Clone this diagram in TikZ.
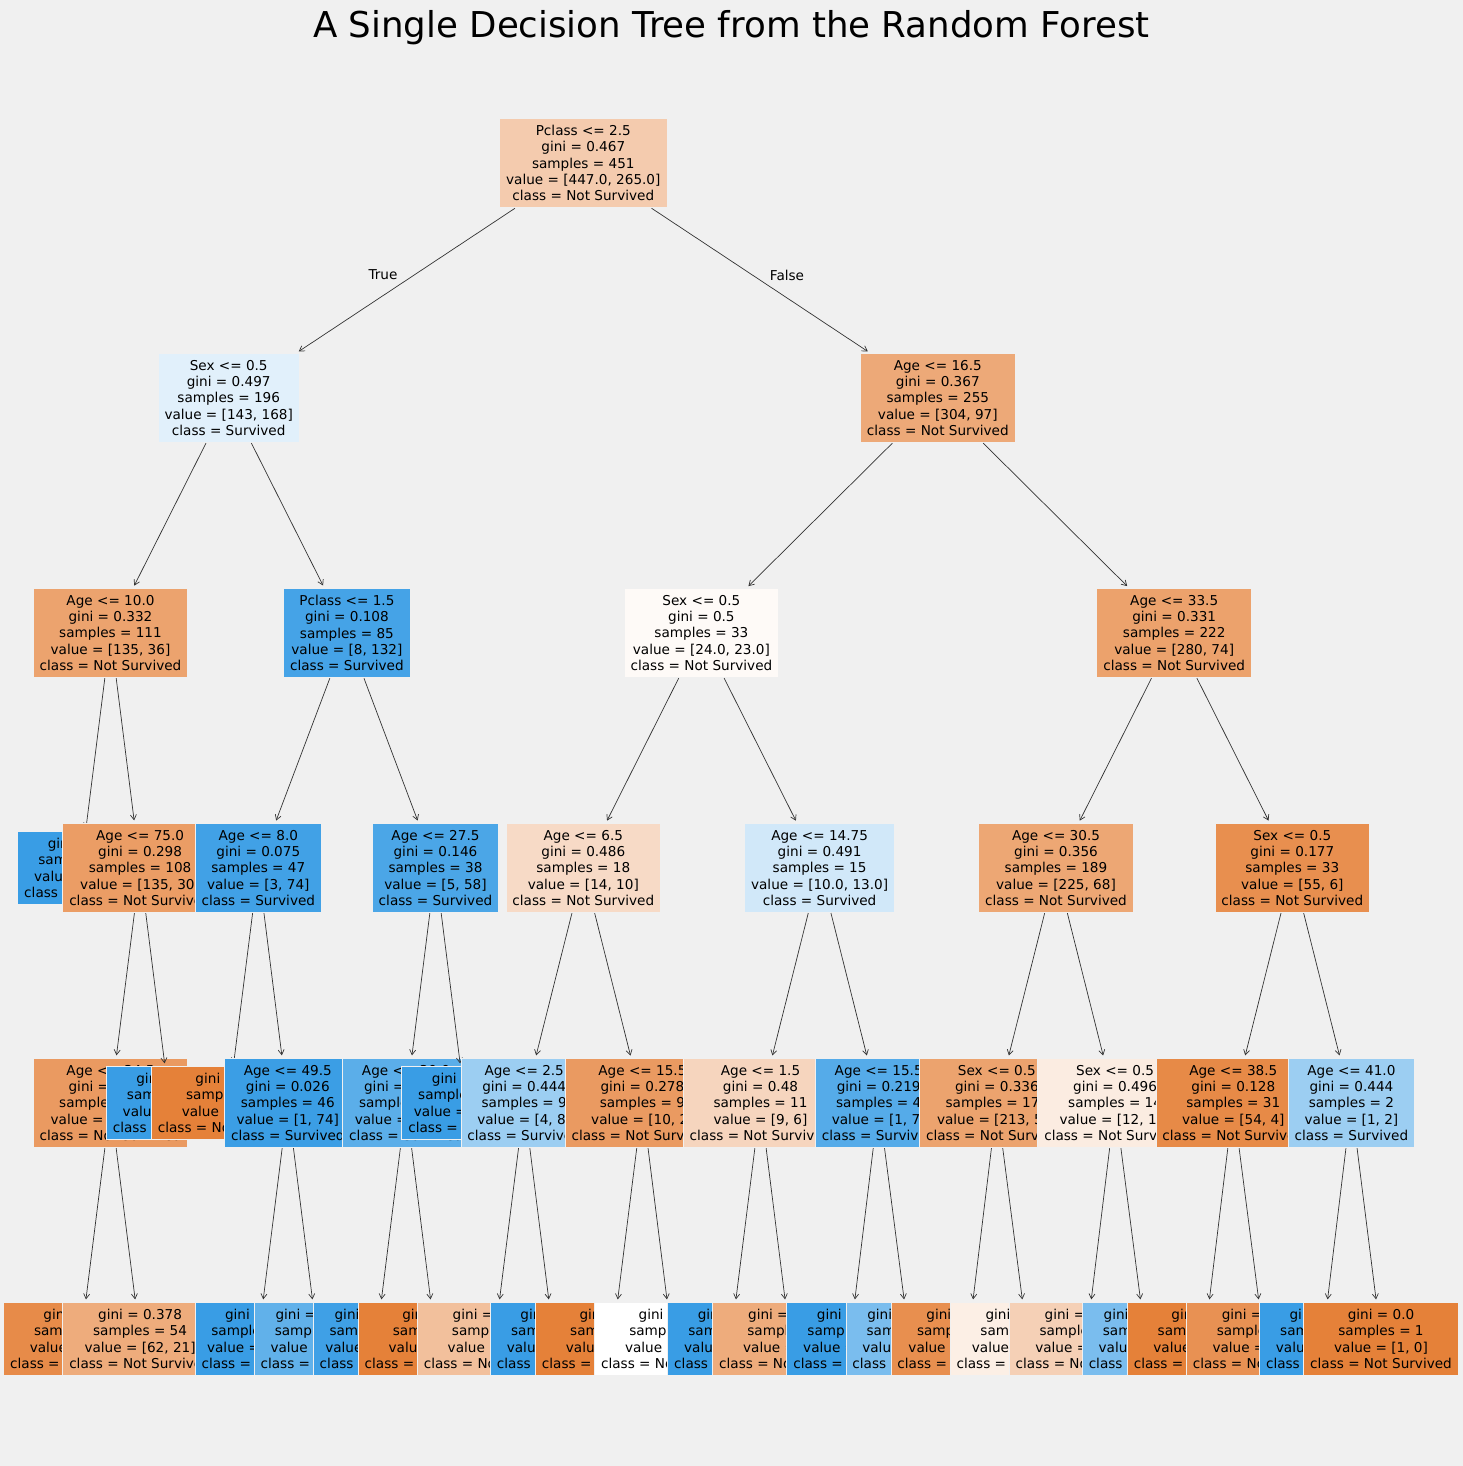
\documentclass[tikz,border=0pt]{standalone}
\usepackage{fontspec}
\setmainfont{DejaVu Sans}
\usetikzlibrary{arrows.meta}
\definecolor{bgc}{HTML}{F0F0F0}
\definecolor{nsC}{RGB}{229,129,57}
\definecolor{svC}{RGB}{57,157,229}
\begin{document}
\begin{tikzpicture}[x=1pt,y=-1pt,>={Straight Barb[length=5pt,width=6pt]},
  tbox/.style={draw=bgc,line width=0.8pt,align=center,inner xsep=6.5pt,inner ysep=7pt,
    font=\fontsize{13.6}{16.3}\selectfont},
  nsurv/.style={tbox,fill=nsC!#1},
  surv/.style={tbox,fill=svC!#1},
  edge/.style={->,draw=black!80,line width=0.7pt,shorten >=2.5pt}]
  \fill[bgc] (0,0) rectangle (1463,1466);
  \useasboundingbox (0,0) rectangle (1463,1466);
  \node[anchor=base] (title) at (731.5,38) {\fontsize{35.6}{40}\selectfont A Single Decision Tree from the Random Forest};
  % depth 0
  \node[nsurv=41] (root) at (583.3,163) {Pclass <= 2.5\\gini = 0.467\\samples = 451\\value = [447.0, 265.0]\\class = Not Survived};
  % left branch
  \node[surv=15] (a) at (228.7,398) {Sex <= 0.5\\gini = 0.497\\samples = 196\\value = [143, 168]\\class = Survived};
  \draw[edge] (root) -- (a);
  \node[nsurv=73] (al) at (110.5,633) {Age <= 10.0\\gini = 0.332\\samples = 111\\value = [135, 36]\\class = Not Survived};
  \draw[edge] (a) -- (al);
  \node[surv=100] (all) at (81,868) {gini = 0.0\\samples = 3\\value = [0, 6]\\class = Survived};
  \draw[edge] (al) -- (all);
  \node[nsurv=78] (alr) at (140.1,868) {Age <= 75.0\\gini = 0.298\\samples = 108\\value = [135, 30]\\class = Not Survived};
  \draw[edge] (al) -- (alr);
  \node[nsurv=80] (alrl) at (110.5,1103) {Age <= 34.5\\gini = 0.278\\samples = 106\\value = [135, 27]\\class = Not Survived};
  \draw[edge] (alr) -- (alrl);
  \node[nsurv=92] (alrll) at (81,1339) {gini = 0.14\\samples = 52\\value = [73, 6]\\class = Not Survived};
  \draw[edge] (alrl) -- (alrll);
  \node[nsurv=66] (alrlr) at (140.1,1339) {gini = 0.378\\samples = 54\\value = [62, 21]\\class = Not Survived};
  \draw[edge] (alrl) -- (alrlr);
  \node[surv=100] (alrr) at (169.6,1103) {gini = 0.0\\samples = 2\\value = [0, 3]\\class = Survived};
  \draw[edge] (alr) -- (alrr);
  \node[surv=94] (ar) at (346.9,633) {Pclass <= 1.5\\gini = 0.108\\samples = 85\\value = [8, 132]\\class = Survived};
  \draw[edge] (a) -- (ar);
  \node[surv=96] (arl) at (258.3,868) {Age <= 8.0\\gini = 0.075\\samples = 47\\value = [3, 74]\\class = Survived};
  \draw[edge] (ar) -- (arl);
  \node[nsurv=100] (arll) at (228.7,1103) {gini = 0.0\\samples = 1\\value = [2, 0]\\class = Not Survived};
  \draw[edge] (arl) -- (arll);
  \node[surv=99] (arlr) at (287.8,1103) {Age <= 49.5\\gini = 0.026\\samples = 46\\value = [1, 74]\\class = Survived};
  \draw[edge] (arl) -- (arlr);
  \node[surv=100] (arlrl) at (258.3,1339) {gini = 0.0\\samples = 42\\value = [0, 69]\\class = Survived};
  \draw[edge] (arlr) -- (arlrl);
  \node[surv=80] (arlrr) at (317.4,1339) {gini = 0.278\\samples = 4\\value = [1, 5]\\class = Survived};
  \draw[edge] (arlr) -- (arlrr);
  \node[surv=91] (arr) at (435.5,868) {Age <= 27.5\\gini = 0.146\\samples = 38\\value = [5, 58]\\class = Survived};
  \draw[edge] (ar) -- (arr);
  \node[surv=83] (arrl) at (406,1103) {Age <= 30.0\\gini = 0.251\\samples = 20\\value = [5, 29]\\class = Survived};
  \draw[edge] (arr) -- (arrl);
  \node[surv=97] (arrll) at (376.5,1339) {gini = 0.064\\samples = 18\\value = [1, 29]\\class = Survived};
  \draw[edge] (arrl) -- (arrll);
  \node[nsurv=100] (arrlr) at (435.5,1339) {gini = 0.0\\samples = 2\\value = [4, 0]\\class = Not Survived};
  \draw[edge] (arrl) -- (arrlr);
  \node[surv=100] (arrr) at (465.1,1103) {gini = 0.0\\samples = 18\\value = [0, 29]\\class = Survived};
  \draw[edge] (arr) -- (arrr);
  % right branch
  \node[nsurv=68] (b) at (937.8,398) {Age <= 16.5\\gini = 0.367\\samples = 255\\value = [304, 97]\\class = Not Survived};
  \draw[edge] (root) -- (b);
  \node[nsurv=4] (bl) at (701.4,633) {Sex <= 0.5\\gini = 0.5\\samples = 33\\value = [24.0, 23.0]\\class = Not Survived};
  \draw[edge] (b) -- (bl);
  \node[nsurv=29] (bll) at (583.3,868) {Age <= 6.5\\gini = 0.486\\samples = 18\\value = [14, 10]\\class = Not Survived};
  \draw[edge] (bl) -- (bll);
  \node[surv=50] (blll) at (524.2,1103) {Age <= 2.5\\gini = 0.444\\samples = 9\\value = [4, 8]\\class = Survived};
  \draw[edge] (bll) -- (blll);
  \node[nsurv=50] (bllll) at (494.6,1339) {gini = 0.444\\samples = 4\\value = [4, 2]\\class = Not Survived};
  \draw[edge] (blll) -- (bllll);
  \node[surv=100] (blllr) at (553.7,1339) {gini = 0.0\\samples = 5\\value = [0, 6]\\class = Survived};
  \draw[edge] (blll) -- (blllr);
  \node[nsurv=80] (bllr) at (642.4,1103) {Age <= 15.5\\gini = 0.278\\samples = 9\\value = [10, 2]\\class = Not Survived};
  \draw[edge] (bll) -- (bllr);
  \node[nsurv=100] (bllrl) at (612.8,1339) {gini = 0.0\\samples = 7\\value = [9, 0]\\class = Not Survived};
  \draw[edge] (bllr) -- (bllrl);
  \node[nsurv=0] (bllrr) at (671.9,1339) {gini = 0.5\\samples = 2\\value = [1, 1]\\class = Not Survived};
  \draw[edge] (bllr) -- (bllrr);
  \node[surv=23] (blr) at (819.6,868) {Age <= 14.75\\gini = 0.491\\samples = 15\\value = [10.0, 13.0]\\class = Survived};
  \draw[edge] (bl) -- (blr);
  \node[nsurv=33] (blrl) at (760.5,1103) {Age <= 1.5\\gini = 0.48\\samples = 11\\value = [9, 6]\\class = Not Survived};
  \draw[edge] (blr) -- (blrl);
  \node[surv=100] (blrll) at (731,1339) {gini = 0.0\\samples = 2\\value = [0, 3]\\class = Survived};
  \draw[edge] (blrl) -- (blrll);
  \node[nsurv=66] (blrlr) at (790,1339) {gini = 0.375\\samples = 9\\value = [9, 3]\\class = Not Survived};
  \draw[edge] (blrl) -- (blrlr);
  \node[surv=86] (blrr) at (878.7,1103) {Age <= 15.5\\gini = 0.219\\samples = 4\\value = [1, 7]\\class = Survived};
  \draw[edge] (blr) -- (blrr);
  \node[surv=100] (blrrl) at (850.1,1339) {gini = 0.0\\samples = 2\\value = [0, 4]\\class = Survived};
  \draw[edge] (blrr) -- (blrrl);
  \node[surv=67] (blrrr) at (909.2,1339) {gini = 0.375\\samples = 2\\value = [1, 3]\\class = Survived};
  \draw[edge] (blrr) -- (blrrr);
  \node[nsurv=74] (br) at (1174.2,633) {Age <= 33.5\\gini = 0.331\\samples = 222\\value = [280, 74]\\class = Not Survived};
  \draw[edge] (b) -- (br);
  \node[nsurv=70] (brl) at (1056,868) {Age <= 30.5\\gini = 0.356\\samples = 189\\value = [225, 68]\\class = Not Survived};
  \draw[edge] (br) -- (brl);
  \node[nsurv=73] (brll) at (996.9,1103) {Sex <= 0.5\\gini = 0.336\\samples = 175\\value = [213, 58]\\class = Not Survived};
  \draw[edge] (brl) -- (brll);
  \node[nsurv=89] (brlll) at (968.3,1339) {gini = 0.198\\samples = 150\\value = [190, 24]\\class = Not Survived};
  \draw[edge] (brll) -- (brlll);
  \node[nsurv=13] (brllr) at (1027.4,1339) {gini = 0.497\\samples = 25\\value = [23, 20]\\class = Not Survived};
  \draw[edge] (brll) -- (brllr);
  \node[nsurv=15] (brlr) at (1115.1,1103) {Sex <= 0.5\\gini = 0.496\\samples = 14\\value = [12, 10]\\class = Not Survived};
  \draw[edge] (brl) -- (brlr);
  \node[nsurv=37] (brlrl) at (1086.5,1339) {gini = 0.475\\samples = 10\\value = [11, 7]\\class = Not Survived};
  \draw[edge] (brlr) -- (brlrl);
  \node[surv=67] (brlrr) at (1145.5,1339) {gini = 0.375\\samples = 4\\value = [1, 3]\\class = Survived};
  \draw[edge] (brlr) -- (brlrr);
  \node[nsurv=89] (brr) at (1292.3,868) {Sex <= 0.5\\gini = 0.177\\samples = 33\\value = [55, 6]\\class = Not Survived};
  \draw[edge] (br) -- (brr);
  \node[nsurv=93] (brrl) at (1233.3,1103) {Age <= 38.5\\gini = 0.128\\samples = 31\\value = [54, 4]\\class = Not Survived};
  \draw[edge] (brr) -- (brrl);
  \node[nsurv=100] (brrll) at (1204.6,1339) {gini = 0.0\\samples = 16\\value = [30, 0]\\class = Not Survived};
  \draw[edge] (brrl) -- (brrll);
  \node[nsurv=87] (brrlr) at (1263.7,1339) {gini = 0.245\\samples = 15\\value = [24, 4]\\class = Not Survived};
  \draw[edge] (brrl) -- (brrlr);
  \node[surv=50] (brrr) at (1351.4,1103) {Age <= 41.0\\gini = 0.444\\samples = 2\\value = [1, 2]\\class = Survived};
  \draw[edge] (brr) -- (brrr);
  \node[surv=100] (brrrl) at (1322.8,1339) {gini = 0.0\\samples = 1\\value = [0, 2]\\class = Survived};
  \draw[edge] (brrr) -- (brrrl);
  \node[nsurv=100] (brrrr) at (1381,1339) {gini = 0.0\\samples = 1\\value = [1, 0]\\class = Not Survived};
  \draw[edge] (brrr) -- (brrrr);
  % split labels
  \node[font=\fontsize{13.6}{16.3}\selectfont] (truelbl) at (383,275) {True};
  \node[font=\fontsize{13.6}{16.3}\selectfont] (falselbl) at (787,275) {False};
\end{tikzpicture}
\end{document}
